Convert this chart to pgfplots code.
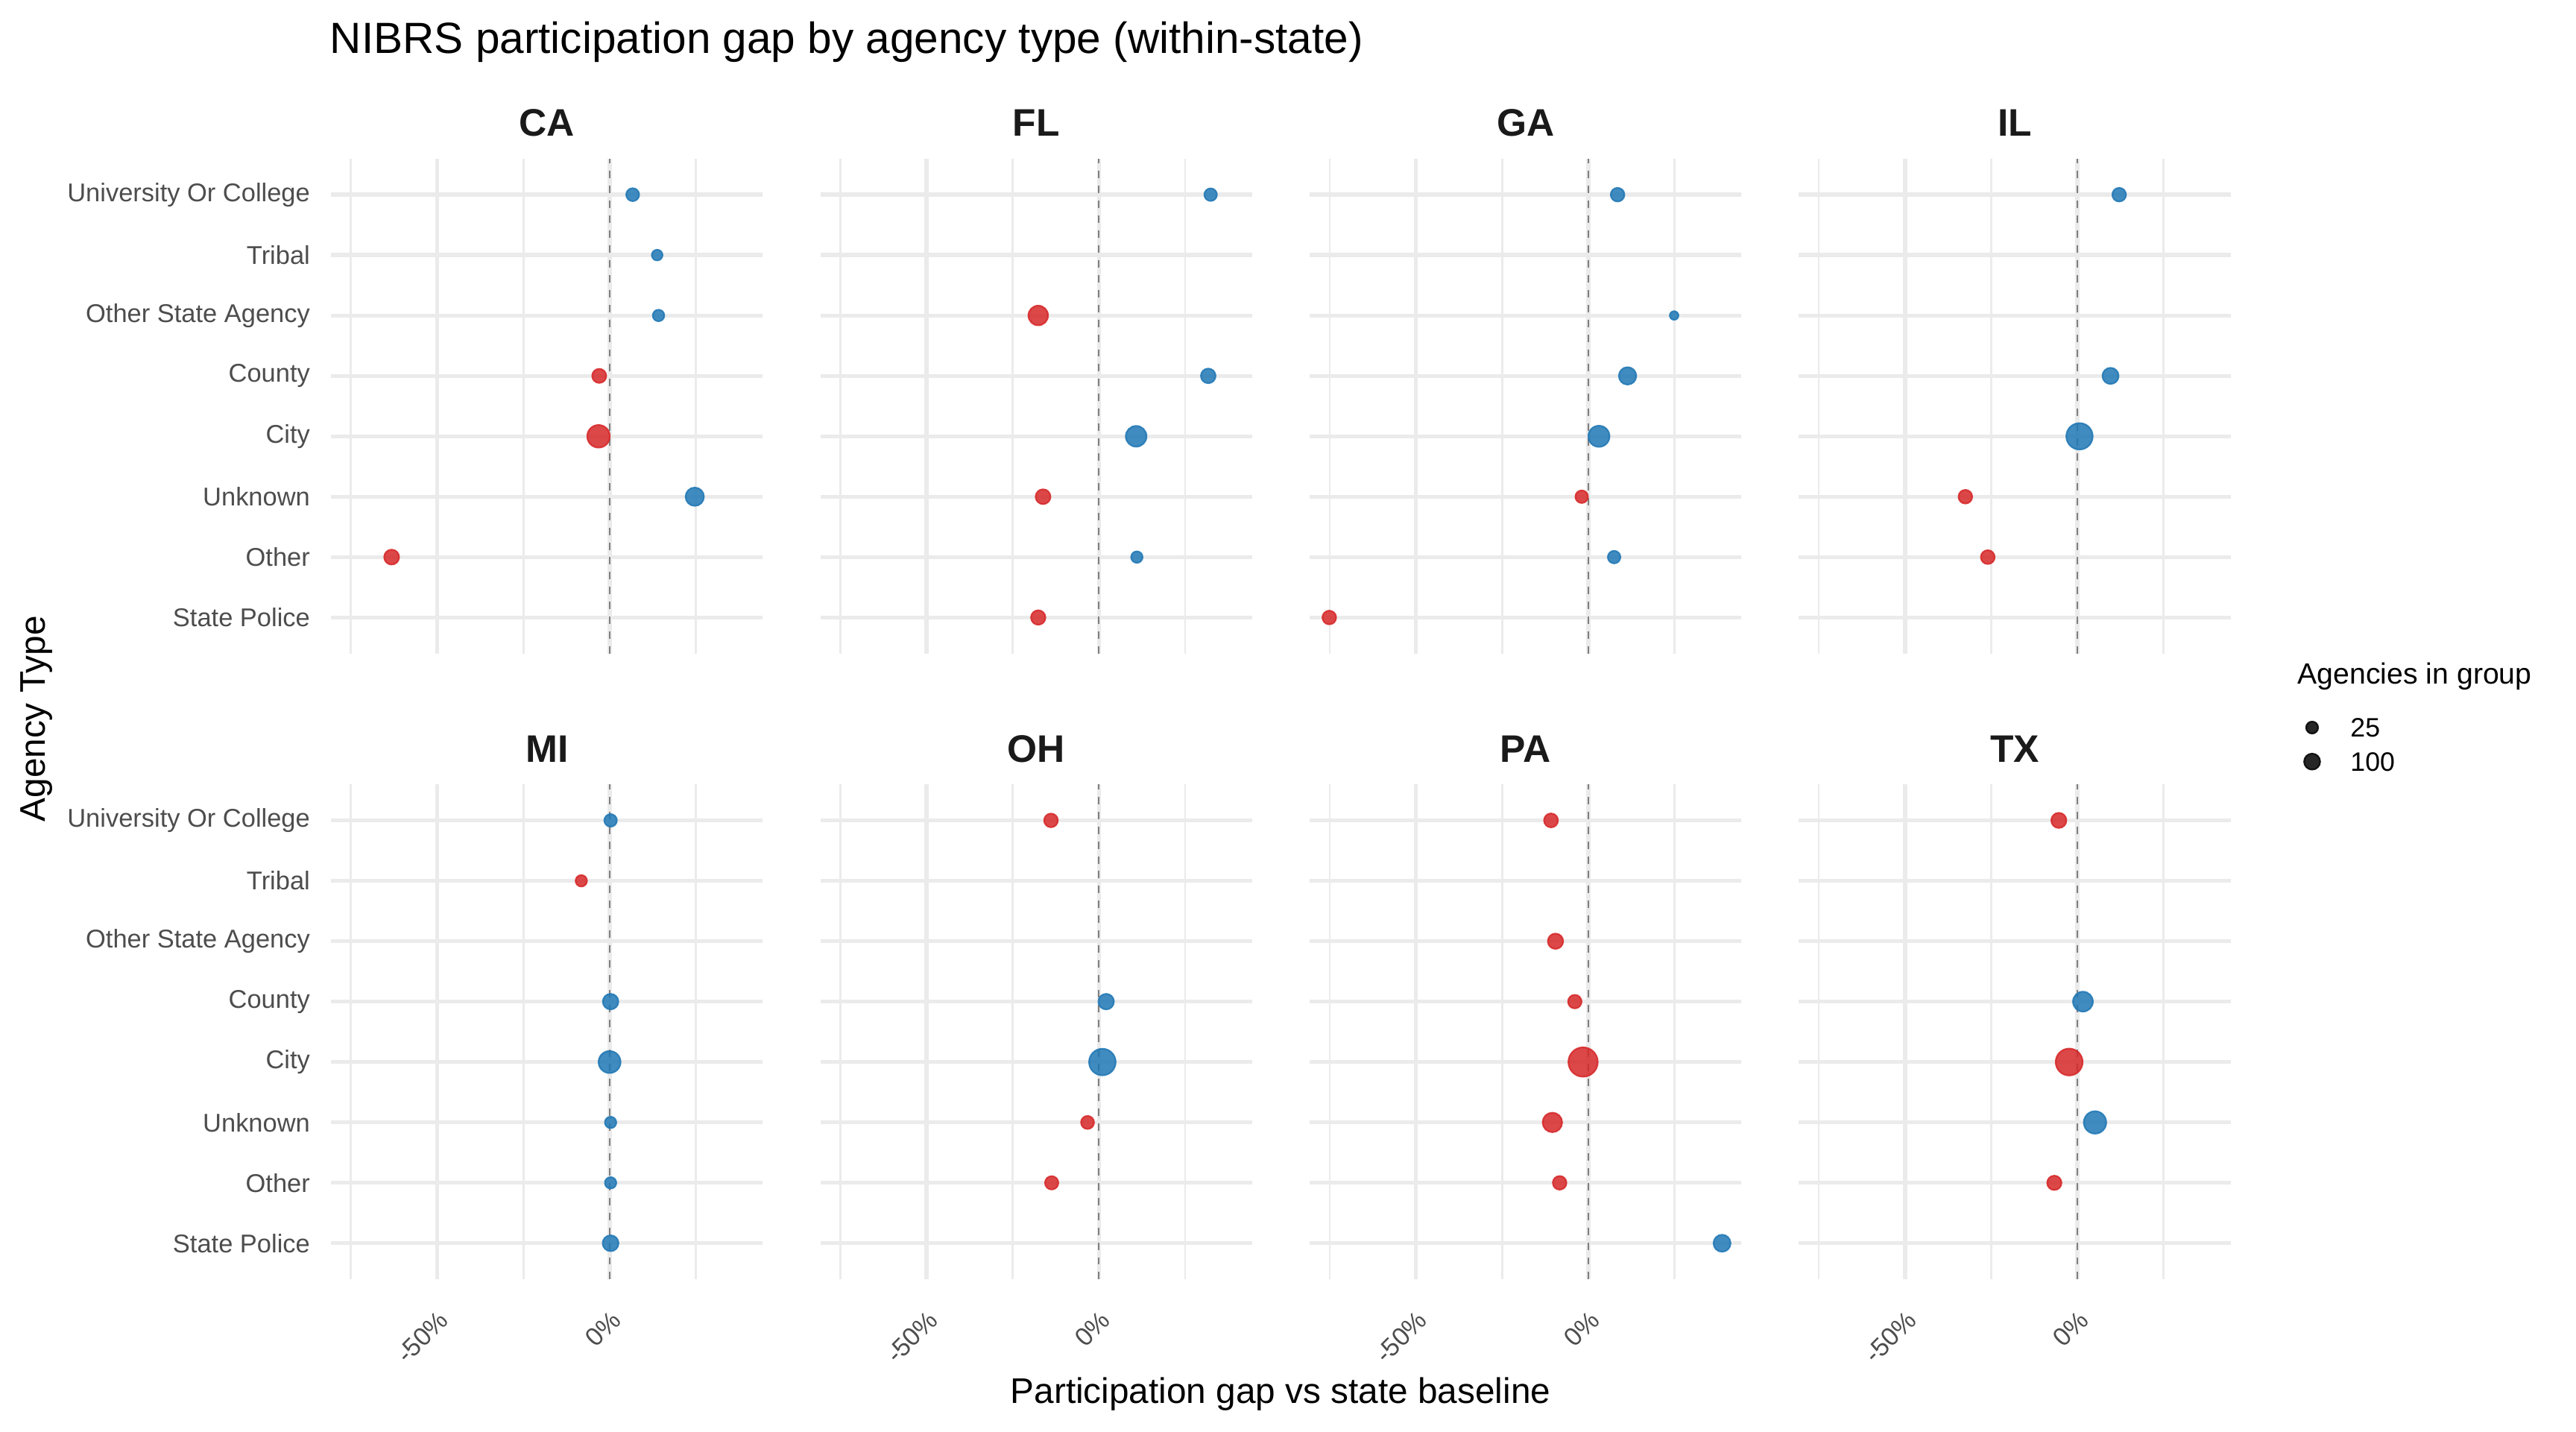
\documentclass[border=0pt]{standalone}
\usepackage{pgfplots}
\pgfplotsset{compat=1.18}
\usepackage{pgfplotstable}
\usepackage{fontspec}
\setmainfont{Liberation Sans}
\definecolor{nred}{HTML}{D62728}
\definecolor{nblue}{HTML}{1F77B4}
\definecolor{gridc}{HTML}{EBEBEB}
\definecolor{txtc}{HTML}{4D4D4D}
\definecolor{stripc}{HTML}{1A1A1A}
\definecolor{zline}{HTML}{7F7F7F}

% y: 1 State Police, 2 Other, 3 Unknown, 4 City, 5 County, 6 Other State Agency, 7 Tribal, 8 University Or College
% x: gap in %, r: marker radius (pt), c: 0 = below baseline (red), 1 = above (blue)
\pgfplotstableread{
y x r c
8 6.7 2.10 1
7 13.8 1.74 1
6 14.2 1.87 1
5 -3.0 2.28 0
4 -3.2 3.66 0
3 24.7 2.97 1
2 -63.2 2.42 0
}\tCA
\pgfplotstableread{
y x r c
8 32.4 2.04 1
6 -17.6 3.18 0
5 31.7 2.38 1
4 10.8 3.36 1
3 -16.2 2.40 0
2 11.0 1.86 1
1 -17.6 2.34 0
}\tFL
\pgfplotstableread{
y x r c
8 8.5 2.22 1
6 24.9 1.40 1
5 11.4 2.82 1
4 3.1 3.42 1
3 -1.9 2.04 0
2 7.5 2.04 1
1 -75.1 2.22 0
}\tGA
\pgfplotstableread{
y x r c
8 12.1 2.22 1
5 9.6 2.62 1
4 0.6 4.27 1
3 -32.5 2.22 0
2 -26.0 2.24 0
}\tIL
\pgfplotstableread{
y x r c
8 0.3 2.04 1
7 -8.2 1.85 0
5 0.3 2.52 1
4 0.0 3.56 1
3 0.3 1.85 1
2 0.3 1.85 1
1 0.3 2.57 1
}\tMI
\pgfplotstableread{
y x r c
8 -13.9 2.22 0
5 2.1 2.52 1
4 1.0 4.30 1
3 -3.3 2.11 0
2 -13.7 2.16 0
}\tOH
\pgfplotstableread{
y x r c
8 -10.8 2.26 0
6 -9.5 2.48 0
5 -3.9 2.19 0
4 -1.5 4.75 0
3 -10.4 3.16 0
2 -8.3 2.21 0
1 38.8 2.76 1
}\tPA
\pgfplotstableread{
y x r c
8 -5.4 2.45 0
5 1.6 3.22 1
4 -2.4 4.35 0
3 5.1 3.63 1
2 -6.7 2.32 0
}\tTX

\pgfplotsset{
  panel/.style={
    scale only axis, width=139.60pt, height=160.08pt,
    xmin=-80.8, xmax=44.45, ymin=0.4, ymax=8.6,
    axis line style={draw=none},
    tick style={draw=none}, major tick length=0pt, minor tick length=0pt,
    xtick={-50,0}, minor xtick={-75,-25,25},
    ytick={1,2,3,4,5,6,7,8},
    xmajorgrids, xminorgrids, ymajorgrids,
    major grid style={line width=1.3pt, gridc},
    minor grid style={line width=0.65pt, gridc},
    xticklabels={}, yticklabels={},
    ticklabel style={font=\fontsize{8.3}{10}\selectfont, text=txtc},
    yticklabel style={anchor=east, inner sep=0pt, xshift=-6.58pt},
    xticklabel style={yshift=-9.4pt, rotate=45, anchor=north east, inner sep=0pt},
    every axis title shift=0pt,
    title style={at={(0.5,1)}, anchor=base, yshift=7.2pt, inner sep=0pt,
      font=\bfseries\fontsize{12.4}{14}\selectfont, text=stripc},
    colormap={signrb}{color=(nred) color=(nblue)},
    point meta min=0, point meta max=1,
    clip=false,
  },
  leftcol/.style={yticklabels={State Police,Other,Unknown,City,County,Other State Agency,Tribal,University Or College}},
  bottomrow/.style={xticklabels={-50\%,0\%}},
  dots/.style={scatter, only marks, mark=*, forget plot,
    point meta=explicit,
    visualization depends on={\thisrow{r}\as\mrad},
    scatter/use mapped color={draw=mapped color, fill=mapped color, fill opacity=0.85, draw opacity=0.85, line width=0.5pt},
    scatter/@pre marker code/.append style={/tikz/mark size=\mrad}},
  zero/.style={zline, line width=0.5pt, dash pattern=on 2.4pt off 2.4pt, forget plot},
}

\begin{document}
\begin{tikzpicture}
\path[use as bounding box] (0pt,0pt) rectangle (832.55pt,-462.53pt);

\node[anchor=base west, inner sep=0pt, font=\fontsize{14.1}{17}\selectfont] at (106.5pt,-17.3pt) {NIBRS participation gap by agency type (within-state)};
\node[anchor=base, inner sep=0pt, font=\fontsize{11.5}{14}\selectfont] at (413.87pt,-453.6pt) {Participation gap vs state baseline};
\node[anchor=base, rotate=90, inner sep=0pt, font=\fontsize{11.5}{14}\selectfont] at (14.69pt,-232.32pt) {Agency Type};
\node[anchor=base west, inner sep=0pt, font=\fontsize{9.45}{12}\selectfont] at (742.38pt,-220.98pt) {Agencies in group};

% top row
\begin{axis}[panel, leftcol, title={CA}, at={(106.96pt,-211.27pt)}, anchor=south west]
\addplot[zero] coordinates {(0,0.4) (0,8.6)};
\addplot[dots] table[x=x,y=y,meta=c] {\tCA};
\end{axis}
\begin{axis}[panel, title={FL}, at={(265.11pt,-211.27pt)}, anchor=south west]
\addplot[zero] coordinates {(0,0.4) (0,8.6)};
\addplot[dots] table[x=x,y=y,meta=c] {\tFL};
\end{axis}
\begin{axis}[panel, title={GA}, at={(423.26pt,-211.27pt)}, anchor=south west]
\addplot[zero] coordinates {(0,0.4) (0,8.6)};
\addplot[dots] table[x=x,y=y,meta=c] {\tGA};
\end{axis}
\begin{axis}[panel, title={IL}, at={(581.36pt,-211.27pt)}, anchor=south west,
  legend cell align=left,
  legend style={at={(axis description cs:1.1684,-0.1290)}, anchor=north west,
    draw=none, fill=none, inner sep=0pt, column sep=9.8pt, row sep=5.0pt,
    font=\fontsize{8.6}{10}\selectfont,
    nodes={inner sep=0pt, text depth=0pt}}]
\addplot[zero] coordinates {(0,0.4) (0,8.6)};
\addplot[dots] table[x=x,y=y,meta=c] {\tIL};
\addlegendimage{only marks, mark=*, mark size=1.95pt, draw=black, fill=black, fill opacity=0.85, draw opacity=0.85, line width=0.5pt}
\addlegendentry{25}
\addlegendimage{only marks, mark=*, mark size=2.6pt, draw=black, fill=black, fill opacity=0.85, draw opacity=0.85, line width=0.5pt}
\addlegendentry{100}
\end{axis}

% bottom row
\begin{axis}[panel, leftcol, bottomrow, title={MI}, at={(106.96pt,-413.48pt)}, anchor=south west]
\addplot[zero] coordinates {(0,0.4) (0,8.6)};
\addplot[dots] table[x=x,y=y,meta=c] {\tMI};
\end{axis}
\begin{axis}[panel, bottomrow, title={OH}, at={(265.11pt,-413.48pt)}, anchor=south west]
\addplot[zero] coordinates {(0,0.4) (0,8.6)};
\addplot[dots] table[x=x,y=y,meta=c] {\tOH};
\end{axis}
\begin{axis}[panel, bottomrow, title={PA}, at={(423.26pt,-413.48pt)}, anchor=south west]
\addplot[zero] coordinates {(0,0.4) (0,8.6)};
\addplot[dots] table[x=x,y=y,meta=c] {\tPA};
\end{axis}
\begin{axis}[panel, bottomrow, title={TX}, at={(581.36pt,-413.48pt)}, anchor=south west]
\addplot[zero] coordinates {(0,0.4) (0,8.6)};
\addplot[dots] table[x=x,y=y,meta=c] {\tTX};
\end{axis}
\end{tikzpicture}
\end{document}
